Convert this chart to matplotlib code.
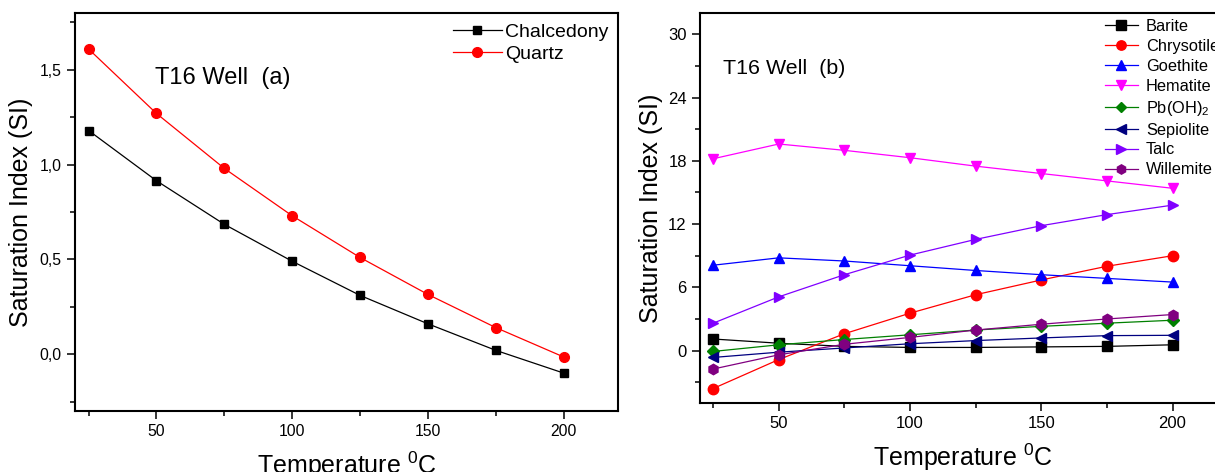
import matplotlib
matplotlib.use("Agg")
import matplotlib.pyplot as plt
from matplotlib.ticker import MultipleLocator

plt.rcParams['font.family'] = ['Liberation Sans', 'DejaVu Sans']
plt.rcParams['mathtext.fontset'] = 'custom'
plt.rcParams['mathtext.rm'] = 'Liberation Sans'
plt.rcParams['mathtext.it'] = 'Liberation Sans'
plt.rcParams['mathtext.default'] = 'regular'

# ---------------- data ----------------
temperature = [25, 50, 75, 100, 125, 150, 175, 200]

chalcedony = [1.18, 0.915, 0.685, 0.49, 0.31, 0.16, 0.02, -0.10]
quartz = [1.61, 1.27, 0.98, 0.73, 0.51, 0.315, 0.14, -0.015]

barite = [1.1, 0.7, 0.4, 0.3, 0.3, 0.35, 0.4, 0.55]
chrysotile = [-3.6, -0.85, 1.6, 3.55, 5.3, 6.7, 8.0, 9.0]
goethite = [8.1, 8.8, 8.5, 8.05, 7.6, 7.2, 6.85, 6.5]
hematite = [18.2, 19.6, 19.0, 18.3, 17.5, 16.8, 16.1, 15.4]
pboh2 = [-0.08, 0.55, 1.05, 1.5, 1.95, 2.3, 2.6, 2.88]
sepiolite = [-0.65, -0.15, 0.25, 0.65, 0.95, 1.2, 1.42, 1.45]
talc = [2.6, 5.1, 7.2, 9.06, 10.55, 11.85, 12.9, 13.8]
willemite = [-1.75, -0.4, 0.6, 1.25, 1.95, 2.5, 3.0, 3.42]

fig = plt.figure(figsize=(12.15, 4.72), dpi=100)

label_fs = 18

def style_axis(ax, tick_fs):
    for sp in ax.spines.values():
        sp.set_linewidth(1.5)
    ax.tick_params(which='both', direction='out', top=False, right=False,
                   labelsize=tick_fs, width=1.1)
    ax.tick_params(which='major', length=6)
    ax.tick_params(which='minor', length=3.5)

# ---------------- panel (a) ----------------
axa = fig.add_axes([75/1215, 1-411/472, (618-75)/1215, (411-13)/472])
axa.plot(temperature, chalcedony, '-s', color='black', lw=0.9, ms=6.2,
         label='Chalcedony')
axa.plot(temperature, quartz, '-o', color='#ff0000', mec='#ff0000', lw=0.9,
         ms=7, label='Quartz')
axa.set_xlim(20, 220)
axa.set_ylim(-0.3, 1.8)
axa.xaxis.set_minor_locator(MultipleLocator(25))
axa.yaxis.set_minor_locator(MultipleLocator(0.25))
axa.set_yticks([0.0, 0.5, 1.0, 1.5])
axa.set_yticklabels(['0,0', '0,5', '1,0', '1,5'])
axa.set_xticks([50, 100, 150, 200])
style_axis(axa, 11.3)
axa.set_ylabel('Saturation Index (SI)', fontsize=label_fs, labelpad=4.5)
axa.set_xlabel('Temperature $^0$C', fontsize=label_fs, labelpad=7.5)
axa.text(155/1215, 1-78/472, 'T16 Well  (a)', transform=fig.transFigure,
         fontsize=17, va='center', ha='left')
axa.legend(loc='upper left', bbox_to_anchor=(453/1215, 1-23/472),
           bbox_transform=fig.transFigure, frameon=False, fontsize=14,
           borderpad=0, borderaxespad=0, handlelength=2.5, handletextpad=0.18,
           labelspacing=0.23)

# ---------------- panel (b) ----------------
axb = fig.add_axes([700/1215, 1-403.3/472, 525/1215, (403.3-13.3)/472])
series_b = [
    (barite, 's', 'black', 'Barite'),
    (chrysotile, 'o', '#ff0000', 'Chrysotile'),
    (goethite, '^', '#0000ff', 'Goethite'),
    (hematite, 'v', '#ff00ff', 'Hematite'),
    (pboh2, 'D', '#008000', 'Pb(OH)$_2$'),
    (sepiolite, '<', '#000080', 'Sepiolite'),
    (talc, '>', '#8000ff', 'Talc'),
    (willemite, 'h', '#800080', 'Willemite'),
]
for vals, mk, col, lab in series_b:
    ms = 6 if mk == 'D' else 7.5
    axb.plot(temperature, vals, '-', marker=mk, color=col, mec=col, lw=0.9,
             ms=ms, label=lab)
axb.set_xlim(20, 220)
axb.set_ylim(-5, 32)
axb.set_xticks([50, 100, 150, 200])
axb.xaxis.set_minor_locator(MultipleLocator(25))
axb.set_yticks([0, 6, 12, 18, 24, 30])
axb.yaxis.set_minor_locator(MultipleLocator(3))
style_axis(axb, 12)
axb.set_ylabel('Saturation Index (SI)', fontsize=label_fs, labelpad=3.5)
axb.set_xlabel('Temperature $^0$C', fontsize=label_fs, labelpad=7.5)
axb.text(723/1215, 1-68/472, 'T16 Well  (b)', transform=fig.transFigure,
         fontsize=15.4, va='center', ha='left')
axb.legend(loc='upper left', bbox_to_anchor=(1105/1215, 1-19/472),
           bbox_transform=fig.transFigure, frameon=False, fontsize=11.8,
           borderpad=0, borderaxespad=0, handlelength=2.0, handletextpad=0.5,
           labelspacing=0.3, markerscale=0.9)

fig.savefig('out.png', dpi=100)
